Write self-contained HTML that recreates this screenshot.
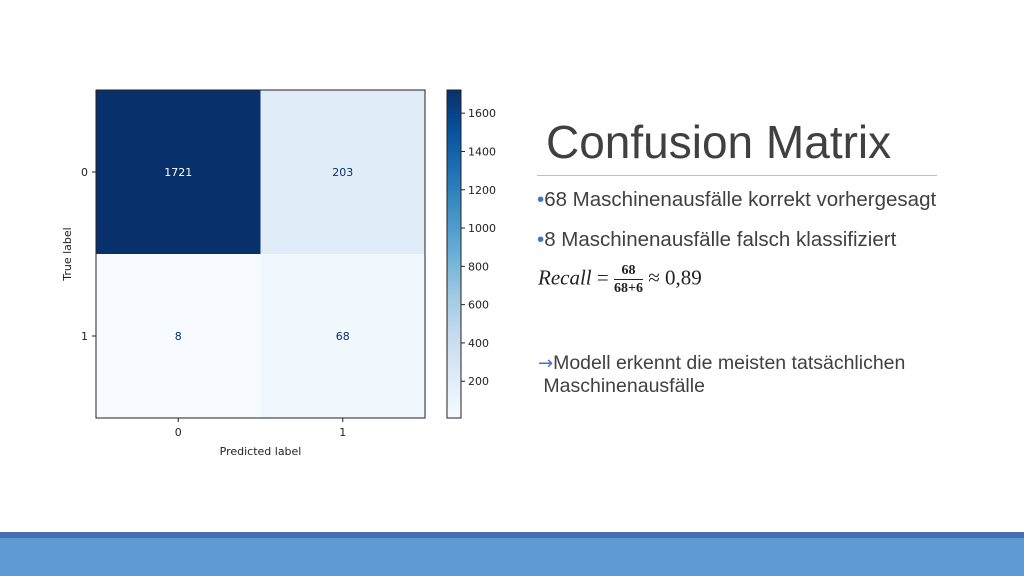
<!DOCTYPE html>
<html><head><meta charset="utf-8"><style>
body{margin:0;width:1024px;height:576px;background:#fff;position:relative;overflow:hidden;font-family:"Liberation Sans",sans-serif}
.t{position:absolute;color:#404040;font-family:"Liberation Sans",sans-serif;white-space:nowrap}
</style></head><body>
<svg id="chart" width="1024" height="576" style="position:absolute;left:0;top:0"></svg>
<div class="t" style="left:546px;top:115px;font-size:46px;">Confusion Matrix</div>
<div style="position:absolute;left:537px;top:175px;width:400px;height:1px;background:#bfbfbf"></div>
<div class="t" style="left:537px;top:188px;font-size:20.5px;"><span style="color:#4472c4">•</span>68 Maschinenausfälle korrekt vorhergesagt</div>
<div class="t" style="left:537px;top:228px;font-size:20.5px;"><span style="color:#4472c4">•</span>8 Maschinenausfälle falsch klassifiziert</div>
<div class="t" style="left:538px;top:262px;font-size:21px;font-family:'Liberation Serif',serif;color:#222">
<i>Recall</i> = <span style="display:inline-block;vertical-align:middle;text-align:center;font-size:14px;font-weight:bold;line-height:17px"><span style="display:block;border-bottom:1px solid #222;padding:0 2px">68</span><span style="display:block">68+6</span></span> ≈ 0,89</div>
<div class="t" style="left:538px;top:352px;font-size:19.5px;line-height:23px;"><span style="color:#4472c4;font-family:'DejaVu Sans',sans-serif;font-size:18px">→</span>Modell erkennt die meisten tatsächlichen<br>&nbsp;Maschinenausfälle</div>
<div style="position:absolute;left:0;top:532px;width:1024px;height:6px;background:#4a6db5"></div>
<div style="position:absolute;left:0;top:538px;width:1024px;height:38px;background:#5e9bd2"></div>
<script>
const classes=["0","1"];
const matrixRow0=[1721,203];
const matrixRow1=[8,68];
const cbTicks=[200,400,600,800,1000,1200,1400,1600];
const rows=[matrixRow0,matrixRow1];
const NS="http://www.w3.org/2000/svg";
const svg=document.getElementById("chart");
function mk(t,a,p){const e=document.createElementNS(NS,t);for(const k in a)e.setAttribute(k,a[k]);(p||svg).appendChild(e);return e;}
const blues=[[247,251,255],[222,235,247],[198,219,239],[158,202,225],[107,174,214],[66,146,198],[33,113,181],[8,81,156],[8,48,107]];
function cmap(t){t=Math.max(0,Math.min(1,t))*8;const i=Math.min(7,Math.floor(t)),f=t-i;const a=blues[i],b=blues[i+1];return `rgb(${a.map((v,k)=>Math.round(v+(b[k]-v)*f)).join(",")})`;}
const all=rows.flat();const vmin=Math.min(...all),vmax=Math.max(...all);
const X0=96,Y0=90,W=329,H=328;
const cw=W/classes.length,ch=H/classes.length;
rows.forEach((r,i)=>r.forEach((v,j)=>{
 const t=(v-vmin)/(vmax-vmin);
 const c=mk("rect",{x:X0+j*cw,y:Y0+i*ch,width:cw,height:ch,fill:cmap(t)});
 
 
 const tx=mk("text",{x:X0+(j+.5)*cw,y:Y0+(i+.5)*ch+4,"text-anchor":"middle","font-size":"11",fill:t>0.5?"#fff":"#08306b","font-family":"DejaVu Sans, sans-serif"});
 tx.textContent=v;
 
 
}));
const fr=mk("rect",{x:X0,y:Y0,width:W,height:H,fill:"none",stroke:"#222","stroke-width":"1"});


classes.forEach((c,k)=>{
 const x=X0+(k+.5)*cw,y=Y0+(k+.5)*ch;
 mk("line",{x1:x,x2:x,y1:Y0+H,y2:Y0+H+4,stroke:"#222"});
 const a=mk("text",{x:x,y:Y0+H+18,"text-anchor":"middle","font-size":"11",fill:"#222","font-family":"DejaVu Sans, sans-serif"});a.textContent=c;
 
 
 mk("line",{x1:X0-4,x2:X0,y1:y,y2:y,stroke:"#222"});
 const b=mk("text",{x:X0-8,y:y+4,"text-anchor":"end","font-size":"11",fill:"#222","font-family":"DejaVu Sans, sans-serif"});b.textContent=c;
 
 
});
const xl=mk("text",{x:X0+W/2,y:455,"text-anchor":"middle","font-size":"11",fill:"#222","font-family":"DejaVu Sans, sans-serif"});xl.textContent="Predicted label";


const yl=mk("text",{x:0,y:0,"text-anchor":"middle","font-size":"11",fill:"#222","font-family":"DejaVu Sans, sans-serif",transform:`translate(71,${Y0+H/2}) rotate(-90)`});yl.textContent="True label";


const CX=447,CW=14;
const defs=mk("defs",{});const g=mk("linearGradient",{id:"cg",x1:0,y1:1,x2:0,y2:0},defs);
for(let s=0;s<=8;s++)mk("stop",{offset:s/8,"stop-color":cmap(s/8)},g);
const cb=mk("rect",{x:CX,y:Y0,width:CW,height:H,fill:"url(#cg)",stroke:"#222"});


function cy(v){return Y0+H-(v-vmin)/(vmax-vmin)*H;}
cbTicks.forEach(v=>{
 const y=cy(v);
 mk("line",{x1:CX+CW,x2:CX+CW+4,y1:y,y2:y,stroke:"#222"});
 const t=mk("text",{x:CX+CW+7,y:y+4,"font-size":"11",fill:"#222","font-family":"DejaVu Sans, sans-serif"});t.textContent=v;
 
 
});
</script>
</body></html>
